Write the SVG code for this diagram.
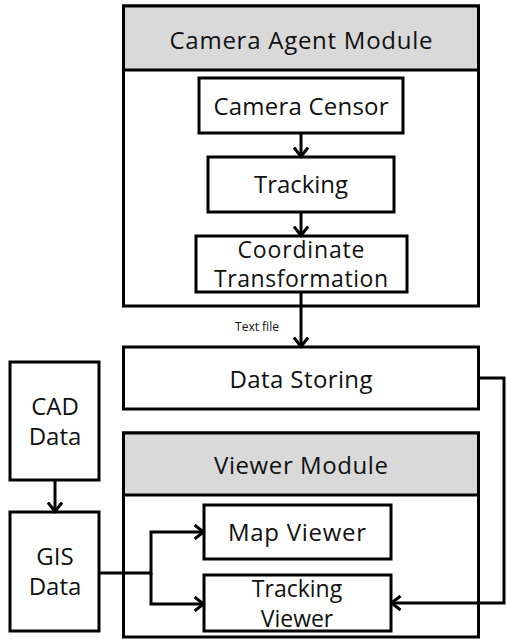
<svg xmlns="http://www.w3.org/2000/svg" width="506" height="639" viewBox="0 0 506 639">
  <style>
    .box { fill: #ffffff; stroke: #000000; stroke-width: 3; }
    .head { fill: #d9d9d9; stroke: #000000; stroke-width: 3; }
    .lbl { font-family: "Open Sans", "Noto Sans CJK KR", sans-serif; font-size: 24px; fill: #111111; text-anchor: middle; }
    .lbl2 { font-family: "Open Sans", "Noto Sans CJK KR", sans-serif; font-size: 23px; fill: #111111; text-anchor: middle; }
    .small { font-family: "Open Sans", "Noto Sans CJK KR", sans-serif; font-size: 12px; fill: #111111; text-anchor: middle; }
    .wire { fill: none; stroke: #000000; stroke-width: 3; }
  </style>
  <defs>
    <marker id="arrow" markerUnits="userSpaceOnUse" viewBox="0 0 12 16" markerWidth="12" markerHeight="16" refX="10.5" refY="8" orient="auto">
      <path d="M1,1 L10,8 L1,15" fill="none" stroke="#000000" stroke-width="3"/>
    </marker>
  </defs>

  <rect width="506" height="639" fill="#ffffff"/>

  <!-- Camera agent module container -->
  <g id="camera-agent-module">
    <rect class="box" x="123.5" y="6" width="355" height="300"/>
    <rect class="head" x="123.5" y="6" width="355" height="64"/>
    <text class="lbl" x="301" y="49" textLength="263" lengthAdjust="spacing">Camera Agent Module</text>
  </g>

  <g id="camera-censor">
    <rect class="box" x="199" y="78" width="204" height="55"/>
    <text class="lbl" x="301" y="115" textLength="175" lengthAdjust="spacing">Camera Censor</text>
  </g>

  <g id="tracking">
    <rect class="box" x="208" y="157" width="186" height="55"/>
    <text class="lbl" x="301" y="193" textLength="94" lengthAdjust="spacing">Tracking</text>
  </g>

  <g id="coordinate-transformation">
    <rect class="box" x="196" y="236" width="211" height="56"/>
    <text class="lbl2" x="301" y="258" textLength="127" lengthAdjust="spacing">Coordinate</text>
    <text class="lbl2" x="301" y="287" textLength="174" lengthAdjust="spacing">Transformation</text>
  </g>

  <g id="data-storing">
    <rect class="box" x="123.5" y="347" width="355" height="62"/>
    <text class="lbl" x="301" y="388" textLength="143" lengthAdjust="spacing">Data Storing</text>
  </g>

  <g id="cad-data">
    <rect class="box" x="10" y="362" width="89" height="118"/>
    <text class="lbl" x="55" y="415">CAD</text>
    <text class="lbl" x="55" y="445">Data</text>
  </g>

  <g id="gis-data">
    <rect class="box" x="10" y="512" width="89" height="119"/>
    <text class="lbl" x="55" y="565">GIS</text>
    <text class="lbl" x="55" y="595">Data</text>
  </g>

  <!-- Viewer module container -->
  <g id="viewer-module">
    <rect class="box" x="123.5" y="433" width="355" height="204"/>
    <rect class="head" x="123.5" y="433" width="355" height="62"/>
    <text class="lbl" x="301" y="474" textLength="174" lengthAdjust="spacing">Viewer Module</text>
  </g>

  <g id="map-viewer">
    <rect class="box" x="204" y="505" width="187" height="54"/>
    <text class="lbl" x="297" y="541" textLength="138" lengthAdjust="spacing">Map Viewer</text>
  </g>

  <g id="tracking-viewer">
    <rect class="box" x="204" y="575" width="187" height="56"/>
    <text class="lbl2" x="297" y="597">Tracking</text>
    <text class="lbl2" x="297" y="627">Viewer</text>
  </g>

  <!-- Connectors -->
  <g id="connectors">
    <path class="wire" d="M301,133 V157" marker-end="url(#arrow)"/>
    <path class="wire" d="M301,212 V236" marker-end="url(#arrow)"/>
    <path class="wire" d="M301,292 V347" marker-end="url(#arrow)"/>
    <text class="small" x="257" y="331">Text file</text>
    <path class="wire" d="M55,480 V512" marker-end="url(#arrow)"/>
    <path class="wire" d="M99,573 H151 V532 H204" marker-end="url(#arrow)"/>
    <path class="wire" d="M151,573 V604 H204" marker-end="url(#arrow)"/>
    <path class="wire" d="M479,378 H504 V603 H391" marker-end="url(#arrow)"/>
  </g>
</svg>
